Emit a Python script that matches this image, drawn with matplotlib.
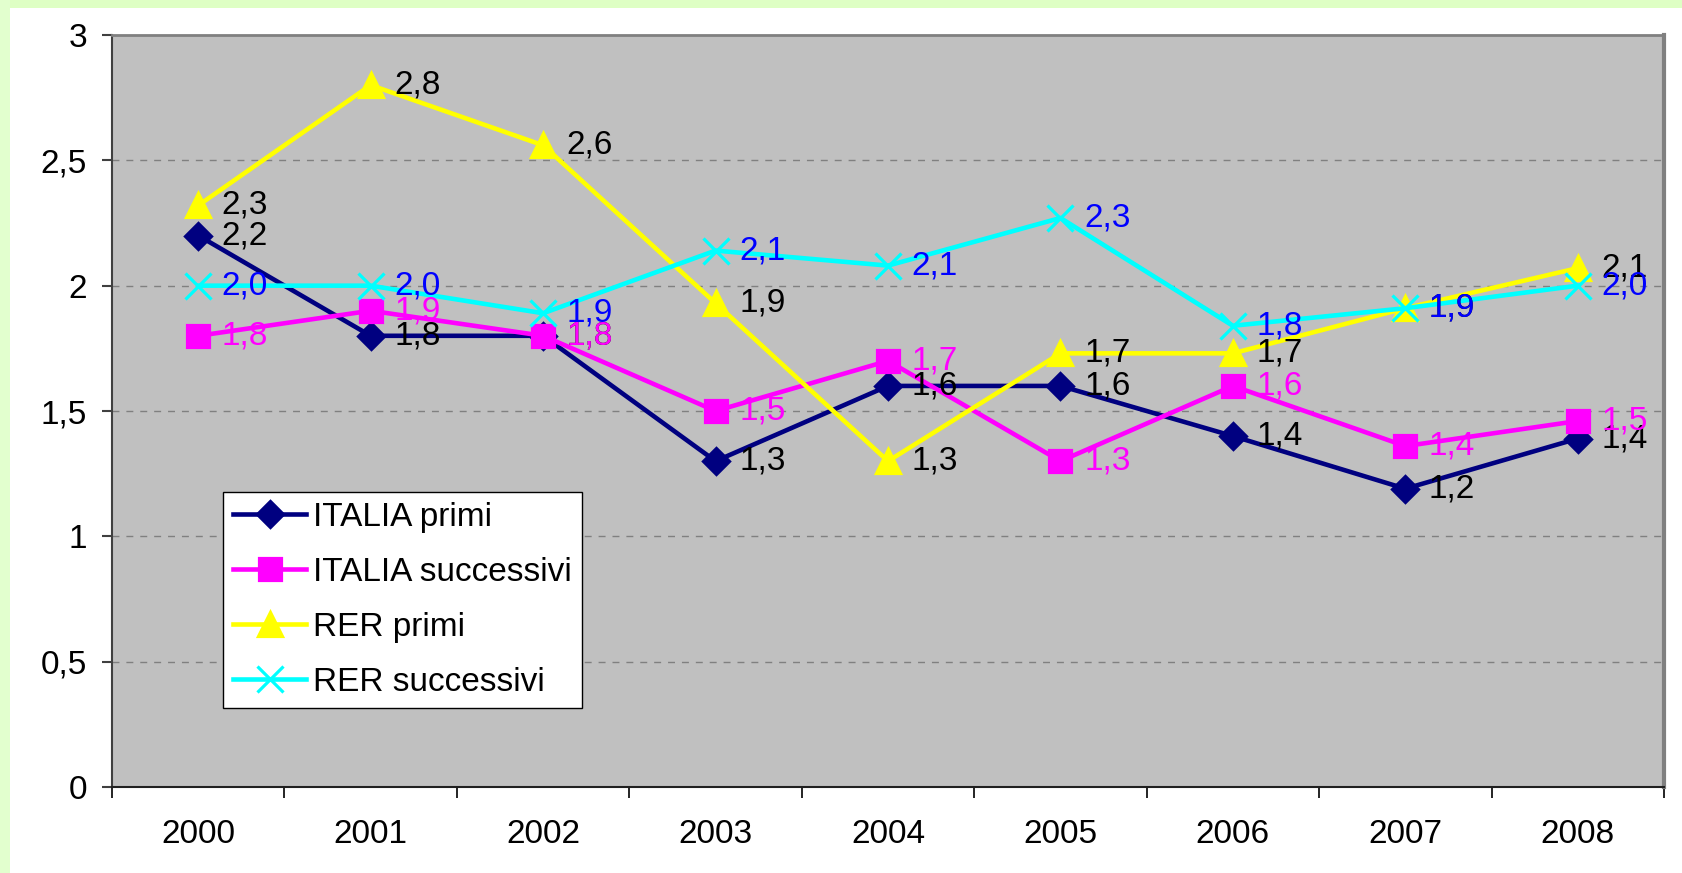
import numpy as np
import matplotlib
matplotlib.use('Agg')
import matplotlib.pyplot as plt
from matplotlib.patches import Rectangle
from matplotlib.ticker import FuncFormatter, FixedLocator

plt.rcParams['font.family'] = ['Liberation Sans', 'DejaVu Sans']

# Dati
anni = ['2000', '2001', '2002', '2003', '2004', '2005', '2006', '2007', '2008']
italia_primi = [2.2, 1.8, 1.8, 1.3, 1.6, 1.6, 1.4, 1.19, 1.39]
italia_successivi = [1.8, 1.9, 1.8, 1.5, 1.7, 1.3, 1.6, 1.36, 1.46]
rer_primi = [2.32, 2.8, 2.56, 1.93, 1.3, 1.73, 1.73, 1.91, 2.07]
rer_successivi = [2.0, 2.0, 1.89, 2.14, 2.08, 2.27, 1.84, 1.91, 2.0]

serie = [
    ('ITALIA primi', italia_primi, '#000080', 'D', 13, 'black'),
    ('ITALIA successivi', italia_successivi, '#FF00FF', 's', 16, '#FF00FF'),
    ('RER primi', rer_primi, '#FFFF00', '^', 17, 'black'),
    ('RER successivi', rer_successivi, '#00FFFF', 'x', 19, '#0000FF'),
]

fs = 24

fig = plt.figure(figsize=(16.83, 8.73), dpi=100)
fig.patch.set_facecolor('white')
# cornice verde chiaro
fig.patches.append(Rectangle((0, 1 - 8 / 873), 1, 8 / 873, transform=fig.transFigure,
                             facecolor='#DEFFC4', edgecolor='none', zorder=0))
fig.patches.append(Rectangle((0, 0), 10 / 1683, 1, transform=fig.transFigure,
                             facecolor='#E2FFCE', edgecolor='none', zorder=0))

ax = fig.add_axes([112 / 1683, 1 - 787 / 873, 1552 / 1683, 752 / 873])
ax.set_facecolor('#C0C0C0')

x = np.arange(len(anni))
for nome, valori, colore, marker, ms, _ in serie:
    ax.plot(x, valori, color=colore, lw=3.3, marker=marker, ms=ms,
            mec=colore, mfc=colore, mew=2.3, label=nome, zorder=3)

for nome, valori, colore, marker, ms, col_testo in serie:
    for xi, v in zip(x, valori):
        ax.annotate(f"{v:.1f}".replace('.', ','), (xi, v), xytext=(17, 0),
                    textcoords='offset points', ha='left', va='center',
                    fontsize=fs, color=col_testo, zorder=5)

ax.set_xlim(-0.5, len(anni) - 0.5)
ax.set_ylim(0, 3)
ax.set_yticks(np.arange(0, 3.01, 0.5))
ax.yaxis.set_major_formatter(FuncFormatter(lambda v, p: ('%g' % v).replace('.', ',')))
ax.set_xticks(x)
ax.set_xticklabels(anni)
ax.xaxis.set_minor_locator(FixedLocator(np.arange(-0.5, len(anni), 1.0)))
ax.tick_params(axis='x', which='major', length=0, pad=23, labelsize=fs)
ax.tick_params(axis='x', which='minor', length=8, width=1.2, direction='out', color='black')
ax.tick_params(axis='y', length=7, width=1.5, direction='out', pad=11, labelsize=fs,
               color='#404040')

for yv in [0.5, 1.0, 1.5, 2.0, 2.5]:
    ax.axhline(yv, color='#808080', lw=1, ls=(0, (5, 5)), zorder=1)

ax.spines['left'].set_color('#404040')
ax.spines['left'].set_linewidth(1.5)
ax.spines['bottom'].set_color('#202020')
ax.spines['bottom'].set_linewidth(1.5)
ax.spines['top'].set_color('#808080')
ax.spines['top'].set_linewidth(2)
ax.spines['right'].set_color('#808080')
ax.spines['right'].set_linewidth(3)

leg = ax.legend(loc='lower left', bbox_to_anchor=(0.0715, 0.105), borderaxespad=0,
                fontsize=fs, fancybox=False, framealpha=1, edgecolor='black',
                handlelength=2.2, handletextpad=0.2, labelspacing=0.72,
                borderpad=0.3, numpoints=1)
leg.get_frame().set_linewidth(1)
leg.set_zorder(6)

fig.savefig('out.png', dpi=100)
